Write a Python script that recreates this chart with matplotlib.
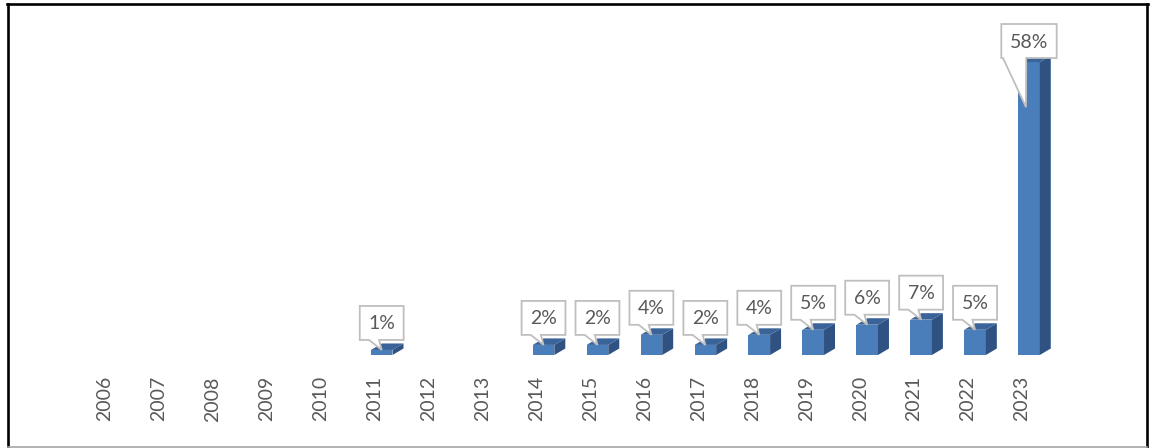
import matplotlib
matplotlib.use("Agg")
import matplotlib.pyplot as plt
from matplotlib.patches import Polygon
from matplotlib.transforms import IdentityTransform
from matplotlib.lines import Line2D

# ---- data ----
years = [str(y) for y in range(2006, 2024)]
share = [0, 0, 0, 0, 0, 1, 0, 0, 2, 2, 4, 2, 4, 5, 6, 7, 5, 58]

plt.rcParams["font.family"] = ["Lato", "DejaVu Sans"]

W, H = 1153, 448
fig = plt.figure(figsize=(W / 100, H / 100), dpi=100)
ax = fig.add_axes([10 / W, 8 / H, 1130 / W, 430 / H])
ax.set_xlim(-1.761, 19.188)
ax.set_ylim(-16.83, 68.32)
ax.axis("off")

FRONT = "#4A7EBB"
SIDE = "#2F5282"
TOP = "#3A6399"
TXT = "#595959"
EDGE = "#BFBFBF"
IDT = IdentityTransform()

# tick labels
for i, y in enumerate(years):
    ax.text(i, -4.2, y, rotation=90, ha="center", va="top",
            fontsize=14, color=TXT)

fig.canvas.draw()
renderer = fig.canvas.get_renderer()
T = ax.transData.transform
dx, dy = 11, 6.5

for i, v in enumerate(share):
    if v <= 0:
        continue
    x0, y0 = T((i - 0.07, 0))
    x1, y1 = T((i + 0.33, v))
    front = [(x0, y0), (x1, y0), (x1, y1), (x0, y1)]
    side = [(x1, y0), (x1 + dx, y0 + dy), (x1 + dx, y1 + dy), (x1, y1)]
    top = [(x0, y1), (x1, y1), (x1 + dx, y1 + dy), (x0 + dx, y1 + dy)]
    for pts, c in ((front, FRONT), (side, SIDE), (top, TOP)):
        fig.add_artist(Polygon(pts, closed=True, facecolor=c, edgecolor="none",
                               transform=IDT, zorder=2))

    # callout label
    label = f"{v}%"
    cx = (x0 + x1) / 2
    t = fig.text(0, 0, label, fontsize=14, color=TXT, ha="center",
                 va="center", zorder=6)
    tw = t.get_window_extent(renderer).width
    bw = tw + 17
    bh = 34
    bb = y1 + 10
    clamped = False
    if bb + bh > H - 24:
        bb = H - 24 - bh
        clamped = True
    bt = bb + bh
    bl = cx - bw / 2
    br = cx + bw / 2
    if clamped:
        base_l, base_r = bl + 0.03 * bw, bl + 0.45 * bw
        tip = (cx - 3, y1 - 45)
    else:
        base_l, base_r = bl + 0.21 * bw, bl + 0.44 * bw
        tip = (cx, y1)
    pts = [(bl, bb), (base_l, bb), tip, (base_r, bb), (br, bb), (br, bt), (bl, bt)]
    fig.add_artist(Polygon(pts, closed=True, facecolor="white", edgecolor=EDGE,
                           linewidth=1.3, transform=IDT, zorder=5))
    t.set_transform(IDT)
    t.set_position((cx, (bb + bt) / 2 - 1))

# outer frame
fig.add_artist(Line2D([8, 8], [H - 4, 0], color="black", lw=1.9, transform=IDT))
fig.add_artist(Line2D([7, 1148], [H - 4, H - 4], color="black", lw=1.9, transform=IDT))
fig.add_artist(Line2D([1147, 1147], [H - 4, 0], color="black", lw=1.9, transform=IDT))
fig.add_artist(Line2D([8, 1147], [1, 1], color="#A6A6A6", lw=1.2, transform=IDT))

fig.savefig("out.png", dpi=100)
